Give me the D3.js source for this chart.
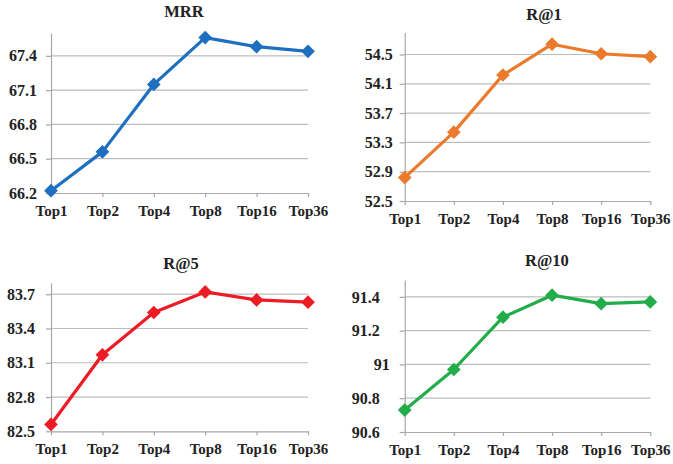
<!DOCTYPE html>
<html>
<head>
<meta charset="utf-8">
<script src="https://cdn.jsdelivr.net/npm/d3@7"></script>
<style>
  html, body { margin: 0; padding: 0; background: #ffffff; }
  svg { display: block; }
  svg text { font-family: "Liberation Serif", "Times New Roman", serif !important; font-weight: bold; fill: #222; }
</style>
</head>
<body>
<svg id="chart" width="673" height="464"></svg>
<script>
// ---- data ----
const categories = ["Top1", "Top2", "Top4", "Top8", "Top16", "Top36"];
const mrrValues = [66.22, 66.56, 67.15, 67.56, 67.48, 67.44];
const r1Values  = [52.82, 53.44, 54.22, 54.64, 54.51, 54.47];
const r5Values  = [82.56, 83.17, 83.54, 83.72, 83.65, 83.63];
const r10Values = [90.73, 90.97, 91.28, 91.41, 91.36, 91.37];

const mrrTicks = [66.2, 66.5, 66.8, 67.1, 67.4];
const r1Ticks  = [52.5, 52.9, 53.3, 53.7, 54.1, 54.5];
const r5Ticks  = [82.5, 82.8, 83.1, 83.4, 83.7];
const r10Ticks = [90.6, 90.8, 91, 91.2, 91.4];

const titles = ["MRR", "R@1", "R@5", "R@10"];
const colors = ["#1f6fc0", "#ec7a2c", "#ec1c24", "#22ad4a"];

// ---- layout ----
const panels = [
  { title: titles[0], values: mrrValues, ticks: mrrTicks, domain: [66.2, 67.6], color: colors[0],
    x0: 51, x1: 308, yb: 193, yt: 33, labelGap: 14, titleX: 184, titleY: 17 },
  { title: titles[1], values: r1Values, ticks: r1Ticks, domain: [52.5, 54.8], color: colors[1],
    x0: 404.7, x1: 650.3, yb: 201, yt: 32.5, labelGap: 12, titleX: 544, titleY: 20 },
  { title: titles[2], values: r5Values, ticks: r5Ticks, domain: [82.5, 83.8], color: colors[2],
    x0: 51, x1: 308, yb: 431.3, yt: 282.8, labelGap: 16, titleX: 181, titleY: 269 },
  { title: titles[3], values: r10Values, ticks: r10Ticks, domain: [90.6, 91.5], color: colors[3],
    x0: 404.7, x1: 650.3, yb: 432, yt: 280, labelGap: 25, titleX: 547, titleY: 266 }
];

const svg = d3.select("#chart");
const gridColor = "#bdbdbd";
const axisColor = "#a8a8a8";
const serif = '"Liberation Serif", "Times New Roman", serif';

panels.forEach(p => {
  const g = svg.append("g");
  const x = d3.scalePoint().domain(categories).range([p.x0, p.x1]).padding(0);
  const y = d3.scaleLinear().domain(p.domain).range([p.yb, p.yt]);

  // gridlines
  g.append("g").selectAll("line").data(p.ticks.filter(t => t !== p.domain[0])).join("line")
    .attr("x1", p.x0).attr("x2", p.x1)
    .attr("y1", d => y(d)).attr("y2", d => y(d))
    .attr("stroke", gridColor).attr("stroke-width", 1.2);

  // y axis
  const ya = g.append("g").attr("transform", `translate(${p.x0},0)`)
    .call(d3.axisLeft(y).tickValues(p.ticks).tickSize(5).tickSizeOuter(0).tickFormat(d => String(d)))
    .attr("font-family", serif).attr("font-size", 16).attr("font-weight", "bold");
  ya.select(".domain").attr("stroke", axisColor).attr("stroke-width", 1.2);
  ya.selectAll(".tick line").attr("stroke", axisColor).attr("stroke-width", 1.2);
  ya.selectAll(".tick text")
    .attr("x", d => String(d).includes(".") ? -p.labelGap : -p.labelGap + 10)
    .attr("fill", "#222");

  // x axis
  const xa = g.append("g").attr("transform", `translate(0,${p.yb})`)
    .call(d3.axisBottom(x).tickSize(4).tickSizeOuter(0))
    .attr("font-family", serif).attr("font-size", 15).attr("font-weight", "bold");
  xa.select(".domain").attr("stroke", axisColor).attr("stroke-width", 1.2);
  xa.selectAll(".tick line").attr("stroke", axisColor).attr("stroke-width", 1.2);
  xa.selectAll(".tick text")
    .attr("y", 23).attr("dy", 0)
    .attr("fill", "#222");

  // line
  const line = d3.line().x((d, i) => x(categories[i])).y(d => y(d));
  g.append("path").datum(p.values)
    .attr("d", line).attr("fill", "none")
    .attr("stroke", p.color).attr("stroke-width", 3.2).attr("stroke-linejoin", "round");

  // markers
  g.append("g").selectAll("path").data(p.values).join("path")
    .attr("d", d3.symbol().type(d3.symbolDiamond2).size(120))
    .attr("transform", (d, i) => `translate(${x(categories[i])},${y(d)})`)
    .attr("fill", p.color);

  // title
  g.append("text").attr("x", p.titleX).attr("y", p.titleY)
    .attr("text-anchor", "middle").attr("font-size", 16.5)
    .attr("font-family", serif).attr("font-weight", "bold").text(p.title);
});
</script>
</body>
</html>
